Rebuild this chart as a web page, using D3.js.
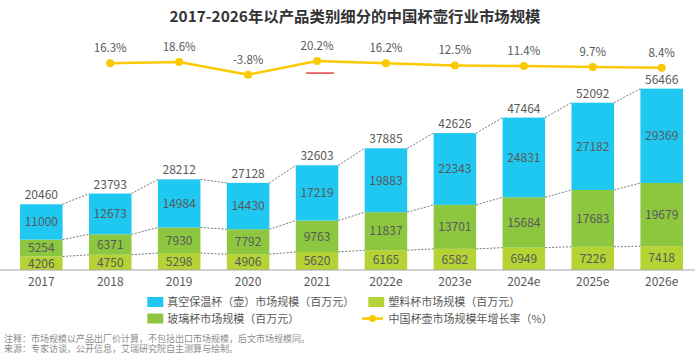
<!DOCTYPE html>
<html>
<head>
<meta charset="utf-8">
<script src="https://cdn.jsdelivr.net/npm/d3@7"></script>
<style>
  html, body { margin: 0; padding: 0; background: #fff; }
  svg { display: block; font-family: "Noto Sans CJK SC", "Noto Sans", sans-serif; }
</style>
</head>
<body>
<div id="chart"></div>
<script>
const years = ['2017', '2018', '2019', '2020', '2021', '2022e', '2023e', '2024e', '2025e', '2026e'];
const vacuumCup = [11000, 12673, 14984, 14430, 17219, 19883, 22343, 24831, 27182, 29369];
const glassCup = [5254, 6371, 7930, 7792, 9763, 11837, 13701, 15684, 17683, 19679];
const plasticCup = [4206, 4750, 5298, 4906, 5620, 6165, 6582, 6949, 7226, 7418];
const totals = [20460, 23793, 28212, 27128, 32603, 37885, 42626, 47464, 52092, 56466];
const growthYears = ['2018', '2019', '2020', '2021', '2022e', '2023e', '2024e', '2025e', '2026e'];
const growthRate = [16.3, 18.6, -3.8, 20.2, 16.2, 12.5, 11.4, 9.7, 8.4];

const title = '2017-2026年以产品类别细分的中国杯壶行业市场规模';
const legendLabels = ['真空保温杯（壶）市场规模（百万元）', '塑料杯市场规模（百万元）', '玻璃杯市场规模（百万元）', '中国杯壶市场规模年增长率（%）'];
const notes = ['注释：市场规模以产品出厂价计算，不包括出口市场规模，后文市场规模同。', '来源：专家访谈，公开信息，艾瑞研究院自主测算与绘制。'];

const colors = { vacuum: '#1fc8f1', glass: '#8dc63f', plastic: '#b5d334', line: '#fcc800', text: '#595959' };

const width = 700, height = 354;

const svg = d3.select('#chart')
  .append('svg')
  .attr('width', width)
  .attr('height', height);

svg.append('rect').attr('width', width).attr('height', height).attr('fill', '#fff');

// title
svg.append('text')
  .attr('x', 355)
  .attr('y', 22)
  .attr('text-anchor', 'middle')
  .attr('fill', '#333')
  .attr('font-weight', 'bold')
  .style('font-size', '15px')
  .attr('textLength', 371)
  .attr('lengthAdjust', 'spacingAndGlyphs')
  .text(title);

const x = d3.scaleBand()
  .domain(years)
  .range([6.85, 696.15])
  .paddingInner(0.383)
  .paddingOuter(0.1915);

const y = d3.scaleLinear()
  .domain([0, 60000])
  .range([270, 77.3]);

const yRate = d3.scaleLinear()
  .domain([-10, 30])
  .range([78.3, 55.5]);

const bw = x.bandwidth();

// stacked data
const rows = years.map((yr, i) => ({ year: yr, plastic: plasticCup[i], glass: glassCup[i], vacuum: vacuumCup[i], total: totals[i] }));
const stack = d3.stack().keys(['plastic', 'glass', 'vacuum'])(rows);

// dashed connectors between bars
const levels = stack.map(s => s.map(d => d[1]));
levels.forEach(lv => {
  for (let i = 0; i < years.length - 1; i++) {
    svg.append('line')
      .attr('x1', x(years[i]) + bw)
      .attr('x2', x(years[i + 1]))
      .attr('y1', y(lv[i]))
      .attr('y2', y(lv[i + 1]))
      .attr('stroke', '#555')
      .attr('stroke-width', 0.8)
      .attr('stroke-dasharray', '2,1.5');
  }
});

svg.append('g')
  .selectAll('g')
  .data(stack)
  .enter()
  .append('g')
  .attr('fill', d => colors[d.key])
  .selectAll('rect')
  .data(d => d)
  .enter()
  .append('rect')
  .attr('x', d => x(d.data.year))
  .attr('width', bw)
  .attr('y', d => y(d[1]))
  .attr('height', d => y(d[0]) - y(d[1]));

// segment labels
stack.forEach(s => {
  svg.append('g')
    .selectAll('text')
    .data(s)
    .enter()
    .append('text')
    .attr('x', d => x(d.data.year) + bw / 2)
    .attr('y', d => (y(d[0]) + y(d[1])) / 2 + 4.3)
    .attr('text-anchor', 'middle')
    .attr('fill', colors.text)
    .style('font-size', '12px')
    .text(d => d.data[s.key]);
});

// totals
svg.append('g')
  .selectAll('text')
  .data(rows)
  .enter()
  .append('text')
  .attr('x', d => x(d.year) + bw / 2)
  .attr('y', d => y(d.total) - 5)
  .attr('text-anchor', 'middle')
  .attr('fill', colors.text)
  .style('font-size', '12px')
  .text(d => d.total);

// x axis
const xAxis = svg.append('g')
  .attr('transform', 'translate(0,270)')
  .call(d3.axisBottom(x).tickSize(0).tickPadding(7))
  .attr('font-family', null)
  .attr('font-size', null);
xAxis.select('.domain').attr('stroke', '#a6a6a6').attr('stroke-width', 1.2)
  .attr('d', 'M0,0H695');
xAxis.selectAll('text').attr('fill', colors.text).style('font-size', '12px');

// growth line
const gx = d => x(d) + bw / 2;
const line = d3.line()
  .x((d, i) => gx(growthYears[i]))
  .y(d => yRate(d));

svg.append('path')
  .datum(growthRate)
  .attr('fill', 'none')
  .attr('stroke', colors.line)
  .attr('stroke-width', 2.5)
  .attr('d', line);

svg.append('g')
  .selectAll('circle')
  .data(growthRate)
  .enter()
  .append('circle')
  .attr('cx', (d, i) => gx(growthYears[i]))
  .attr('cy', d => yRate(d))
  .attr('r', 4)
  .attr('fill', colors.line);

svg.append('g')
  .selectAll('text')
  .data(growthRate)
  .enter()
  .append('text')
  .attr('x', (d, i) => gx(growthYears[i]))
  .attr('y', d => yRate(d) - 11)
  .attr('text-anchor', 'middle')
  .attr('fill', colors.text)
  .style('font-size', '11.5px')
  .text(d => d.toFixed(1) + '%');

// red underline mark under 2021 rate
const markIdx = growthYears.indexOf('2021');
svg.append('line')
  .attr('x1', gx('2021') - 11)
  .attr('x2', gx('2021') + 17)
  .attr('y1', yRate(growthRate[markIdx]) + 12)
  .attr('y2', yRate(growthRate[markIdx]) + 12)
  .attr('stroke', '#ee4b4b')
  .attr('stroke-width', 1.6);

// legend
const legend = svg.append('g');
const legendItems = [
  { label: legendLabels[0], color: colors.vacuum, type: 'rect', lx: 147.3, ly: 302 },
  { label: legendLabels[1], color: colors.plastic, type: 'rect', lx: 368.3, ly: 302 },
  { label: legendLabels[2], color: colors.glass, type: 'rect', lx: 147.3, ly: 318.5 },
  { label: legendLabels[3], color: colors.line, type: 'line', lx: 362, ly: 318.5 }
];
legendItems.forEach(it => {
  if (it.type === 'rect') {
    legend.append('rect')
      .attr('x', it.lx).attr('y', it.ly - 5)
      .attr('width', 16).attr('height', 10)
      .attr('fill', it.color);
  } else {
    legend.append('line')
      .attr('x1', it.lx).attr('x2', it.lx + 21)
      .attr('y1', it.ly).attr('y2', it.ly)
      .attr('stroke', it.color).attr('stroke-width', 2.5);
    legend.append('circle')
      .attr('cx', it.lx + 10.5).attr('cy', it.ly).attr('r', 3.5)
      .attr('fill', it.color);
  }
  legend.append('text')
    .attr('x', it.type === 'rect' ? it.lx + 20 : it.lx + 26.5)
    .attr('y', it.ly + 4)
    .attr('fill', colors.text)
    .style('font-size', '11px')
    .text(it.label);
});

// notes
svg.append('g')
  .selectAll('text')
  .data(notes)
  .enter()
  .append('text')
  .attr('x', 4)
  .attr('y', (d, i) => 341.5 + i * 10.5)
  .attr('fill', '#8c8c8c')
  .style('font-size', '9px')
  .text(d => d);
</script>
</body>
</html>
